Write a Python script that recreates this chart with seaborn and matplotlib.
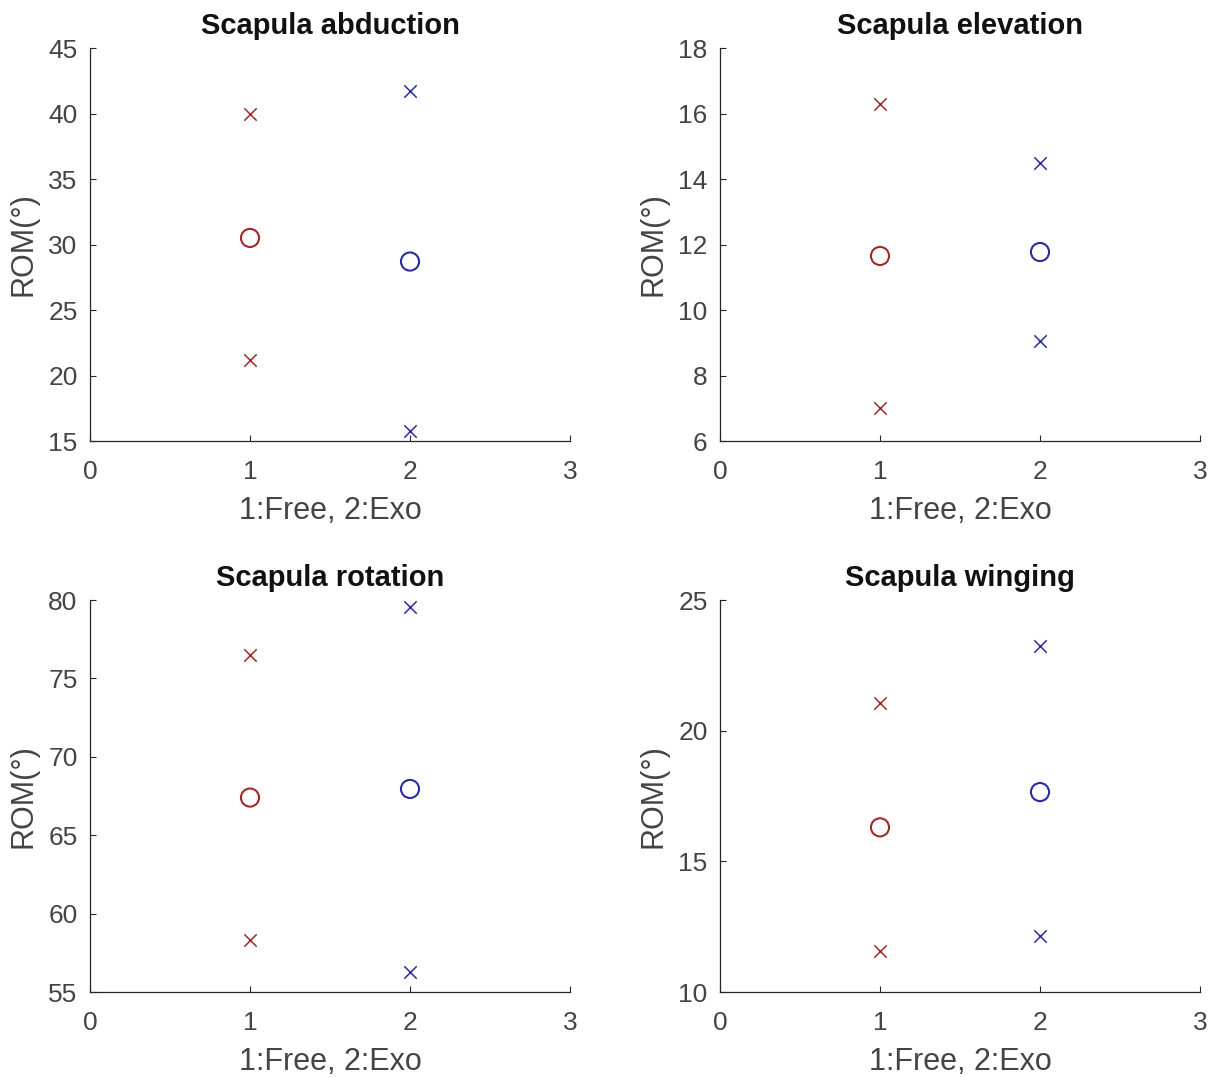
import matplotlib
matplotlib.use("Agg")
import matplotlib.pyplot as plt
import seaborn as sns
import pandas as pd

# ---- data ----
titles = ["Scapula abduction", "Scapula elevation", "Scapula rotation", "Scapula winging"]
conditions = [1, 2]  # 1: Free, 2: Exo
mean_free = [30.5, 11.65, 67.4, 16.3]
mean_exo = [28.7, 11.77, 67.95, 17.65]
max_free = [39.95, 16.3, 76.5, 21.05]
max_exo = [41.7, 14.5, 79.55, 23.25]
min_free = [21.2, 7.0, 58.3, 11.57]
min_exo = [15.8, 9.05, 56.3, 12.15]
y_limits = [(15, 45), (6, 18), (55, 80), (10, 25)]
y_ticks = [[15, 20, 25, 30, 35, 40, 45], [6, 8, 10, 12, 14, 16, 18],
           [55, 60, 65, 70, 75, 80], [10, 15, 20, 25]]
x_ticks = [0, 1, 2, 3]
xlabel = "1:Free, 2:Exo"
ylabel = "ROM(°)"

red = "#a3282c"
blue = "#2b2ba0"

sns.set_style("white")
plt.rcParams['font.family'] = ['Liberation Sans', 'DejaVu Sans']

fig = plt.figure(figsize=(12.28, 10.78), dpi=100)
positions = [
    [90/1228, 1-441/1078, 480/1228, 393/1078],
    [720/1228, 1-441/1078, 480/1228, 393/1078],
    [90/1228, 1-992/1078, 480/1228, 392/1078],
    [720/1228, 1-992/1078, 480/1228, 392/1078],
]

for i in range(4):
    ax = fig.add_axes(positions[i])
    df_x = pd.DataFrame({
        "cond": [1, 1, 2, 2],
        "val": [max_free[i], min_free[i], max_exo[i], min_exo[i]],
        "grp": ["Free", "Free", "Exo", "Exo"],
    })
    df_o = pd.DataFrame({
        "cond": conditions,
        "val": [mean_free[i], mean_exo[i]],
        "grp": ["Free", "Exo"],
    })
    for grp, col in [("Free", red), ("Exo", blue)]:
        sub = df_x[df_x.grp == grp]
        sns.scatterplot(data=sub, x="cond", y="val", marker="x", s=80,
                        color=col, linewidth=1.1, ax=ax, zorder=3)
        sub = df_o[df_o.grp == grp]
        sns.scatterplot(data=sub, x="cond", y="val", marker="o", s=170,
                        facecolors="none", edgecolors=col, linewidth=1.5,
                        ax=ax, zorder=3)
    ax.set_xlim(0, 3)
    ax.set_ylim(*y_limits[i])
    ax.set_xticks(x_ticks)
    ax.set_yticks(y_ticks[i])
    ax.set_title(titles[i], fontsize=21, fontweight="bold", color="#111111", pad=10)
    ax.set_xlabel(xlabel, fontsize=22, color="#444444", labelpad=8)
    ax.set_ylabel(ylabel, fontsize=22, color="#444444", labelpad=7)
    ax.tick_params(direction="in", length=4, width=0.8, colors="#262626",
                   labelsize=19, labelcolor="#444444", pad=9,
                   bottom=True, left=True)
    ax.tick_params(axis="x", pad=14)
    for side in ["top", "right"]:
        ax.spines[side].set_visible(False)
    for side in ["left", "bottom"]:
        ax.spines[side].set_color("#262626")
        ax.spines[side].set_linewidth(0.9)

fig.savefig("out.png", dpi=100, facecolor="white")
